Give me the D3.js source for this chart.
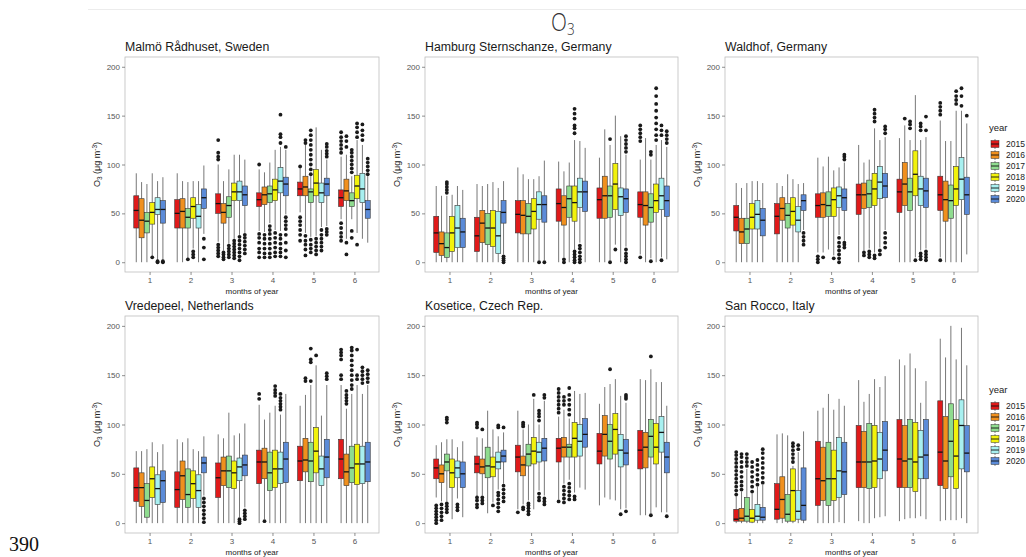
<!DOCTYPE html>
<html>
<head>
<meta charset="utf-8">
<script src="https://cdn.jsdelivr.net/npm/d3@7"></script>
<style>
  body { margin: 0; background: #fff; }
  svg { display: block; font-family: "Liberation Sans", Arial, sans-serif; }
</style>
</head>
<body>
<svg id="chart"></svg>
<script>
const WIDTH = 1026;
const HEIGHT = 557;

const months = [1, 2, 3, 4, 5, 6];
const years = ["2015", "2016", "2017", "2018", "2019", "2020"];
const yearColors = ["#e01a1a", "#f0901e", "#8fdc8f", "#f2f20c", "#a8f0f0", "#5b8bd8"];
const yTicks = [0, 50, 100, 150, 200];
const stations = [
  "Malmö Rådhuset, Sweden",
  "Hamburg Sternschanze, Germany",
  "Waldhof, Germany",
  "Vredepeel, Netherlands",
  "Kosetice, Czech Rep.",
  "San Rocco, Italy",
];

// one row per month and year: [low whisker, q1, median, q3, high whisker]
const malmo = [
  [0,35,53,68,91],[0,25,43,65,82],[0,30,42,51,80],[6,39,51,61,91],[2,49,54,66,83],[2,40,54,63,87],
  [0,35,50,64,91],[0,35,52,65,83],[4,35,46,55,82],[14,45,57,66,83],[0,35,47,59,83],[29,55,66,75,99],
  [21,50,60,70,100],[12,40,51,60,83],[19,46,58,67,95],[24,63,72,81,110],[28,63,72,83,110],[30,58,69,78,105],
  [32,57,64,71,95],[31,59,69,77,92],[40,61,70,78,102],[33,63,74,85,115],[32,71,83,97,118],[49,68,80,87,115],
  [51,68,75,82,97],[30,68,77,88,120],[26,61,72,75,88],[27,68,81,95,138],[36,61,71,81,115],[37,68,80,86,105],
  [44,57,66,74,108],[24,63,73,85,110],[44,57,63,71,88],[30,65,78,89,125],[24,61,75,91,120],[20,45,54,63,88],
];
const malmoOut = [
  [],[],[],[5],[0,1],[0,1],
  [],[],[3],[5,8,11],[],[3,15,24],
  [6,9,12,15,18,105,108,112,125],[3,5,8,10],[5,8,11,14,17],[4,7,10,13,16,19,22],[2,6,10,14,18,22,26],[9,13,17,21,25,28],
  [5,10,14,20,25,29,100],[5,9,14,19,24,28],[5,9,14,19,24,29,33,37],[6,10,15,20,25,30],[6,10,14,19,24,28,122,128,131,151],[5,12,20,28,34,38,42,46,118],
  [22,28,33,38,42,46,98],[7,13,18,22,27,122,125],[10,14,18,23,90,95,100,105,110,115,120,125,130,135],[8,12,16,20,24],[12,16,20,24,28,33],[28,31,34,108,111,114,118,121],
  [22,26,30,35,40,112,116,120,124,128,133],[8,20,118,124,129],[25,32,92,96,100,104,108,112,115],[18,128,133,138,142],[125,130,135,141],[90,94,98,102,106],
];

const hamburg = [
  [0,10,30,47,78],[0,7,19,31,68],[0,5,15,30,68],[0,11,30,47,69],[0,15,35,58,78],[0,15,31,45,74],
  [0,11,27,46,80],[0,20,40,53,78],[0,18,35,50,80],[0,16,35,53,82],[0,9,27,52,76],[8,40,51,63,83],
  [0,30,49,63,97],[0,29,48,63,90],[0,29,47,60,85],[0,34,52,65,85],[2,44,59,72,88],[2,41,59,68,104],
  [0,42,60,75,103],[5,38,56,68,93],[0,46,65,78,102],[13,42,61,78,125],[20,56,72,86,124],[0,52,72,83,117],
  [0,45,64,76,107],[0,45,68,88,136],[2,46,68,78,120],[18,54,80,101,150],[0,48,67,76,129],[16,51,65,75,110],
  [8,46,59,72,105],[0,38,58,72,127],[4,41,56,70,105],[0,51,63,80,120],[5,54,68,86,125],[3,47,63,78,118],
];
const hamburgOut = [
  [],[],[71,74,77,80,82],[],[],[],
  [],[],[],[],[],[0,2,4,6],
  [],[],[],[],[0],[0],
  [],[0,3],[],[0,2,5,8,11,132,137,140,147,152,157],[0,3,6,10,14,17],[],
  [],[],[0,126],[13],[],[0,3,6,9,13,113,117,121,125,129],
  [5,124,128,132,136,140],[],[1,110,113],[125,130,136,142,148,155,162,170,178],[2,130,135,140],[122,126,130,134],
];

const waldhof = [
  [0,32,46,58,81],[0,19,31,45,76],[0,19,34,45,81],[0,34,46,60,83],[0,34,49,63,83],[0,27,43,55,81],
  [0,29,47,60,81],[0,43,55,66,78],[0,35,48,60,90],[0,38,52,66,85],[0,31,43,57,80],[33,53,63,69,81],
  [10,46,58,70,107],[10,46,59,71,98],[13,47,58,72,108],[7,47,64,76,94],[28,56,68,77,97],[22,53,66,75,102],
  [0,49,69,80,120],[12,55,69,81,102],[14,56,70,84,105],[10,58,75,91,137],[15,65,82,98,125],[33,66,78,91,128],
  [0,51,72,85,127],[0,58,80,102,140],[0,53,72,86,125],[5,68,90,114,171],[12,58,75,88,125],[14,56,73,86,128],
  [5,53,69,88,145],[0,42,64,83,124],[0,45,63,79,124],[0,58,75,98,155],[0,64,85,107,155],[8,49,69,87,142],
];
const waldhofOut = [
  [],[],[],[],[],[],
  [],[],[],[],[],[18,22,26,30],
  [0,3,6],[5],[],[4],[0,4,8,12,16,20,25],[15,18,20,105,108,110],
  [],[7,10],[5,8,11],[4,7,144,148,152,156],[8,12],[15,20,25,30,132,136,139],
  [],[147],[137,141,144],[2],[3,6,9,135,139,142],[2,5,8,11,135,149],
  [2,151,155,159,163],[],[],[162,166,170,175],[160,170,178],[150],
];

const vredepeel = [
  [0,22,36,56,73],[0,17,36,51,73],[0,6,23,40,75],[0,26,45,57,82],[0,19,35,49,72],[0,21,43,53,80],
  [0,16,34,52,85],[0,24,48,63,82],[0,16,29,55,86],[0,25,40,53,75],[0,16,33,49,73],[28,51,61,67,88],
  [0,26,46,61,90],[0,38,53,67,86],[0,36,53,68,112],[0,35,51,63,89],[6,43,57,66,91],[16,48,59,69,101],
  [0,40,62,74,120],[4,45,62,76,105],[0,33,51,72,112],[0,36,55,74,119],[0,40,55,72,110],[0,41,65,82,131],
  [0,43,63,78,119],[0,52,64,86,130],[0,42,63,82,140],[0,51,73,97,160],[0,38,55,68,109],[0,46,67,85,140],
  [0,45,65,85,140],[0,38,52,70,116],[0,41,56,78,131],[0,39,60,80,140],[0,40,60,78,131],[0,42,62,82,140],
];
const vredepeelOut = [
  [],[],[],[],[],[],
  [],[],[],[],[],[1,5,9,13,17,21,25],
  [],[],[],[],[0,2,4],[4,7,10,13],
  [126,131],[2],[],[129,132,135,139],[115,118,121,124,127,131],[],
  [],[144,147],[144,163,166,177],[170],[],[146,149,152],
  [146,150,166,170,173,176],[121,124,127,130,134],[136,140,145,150,155,160,165,170,175,178],[146,150,176],[142,146,150,154,158],[143,147,151,155],
];

const kosetice = [
  [26,45,56,65,79],[22,41,50,59,82],[22,53,62,70,85],[4,36,51,65,85],[25,46,56,63,77],[6,36,50,62,83],
  [26,51,60,68,87],[28,50,57,65,86],[10,46,58,77,114],[21,47,57,67,95],[34,55,62,72,88],[40,62,68,74,92],
  [14,52,67,79,114],[19,48,59,68,95],[23,58,70,80,100],[14,60,73,87,126],[33,62,72,82,100],[28,63,76,86,124],
  [24,62,76,86,108],[40,67,77,87,115],[44,67,77,80,106],[31,67,86,102,134],[36,68,83,100,131],[34,77,90,106,132],
  [18,60,73,91,121],[26,68,90,109,138],[24,65,83,100,141],[23,70,95,111,146],[14,57,74,90,129],[15,59,71,85,122],
  [8,55,74,94,146],[8,56,77,92,145],[10,67,88,105,156],[16,60,77,101,143],[11,72,92,108,143],[11,51,67,82,119],
];
const koseticeOut = [
  [0,3,6,9,12,15,18],[3,7,11,15,19],[11,14,17,20,102,105,107],[],[13,16,19],[],
  [16,19,23,26,97,100,102],[20,23,26,95],[],[18],[12,16,20,24,28,31,97,99],[22,26,30,34,38,97],
  [11],[14,16,98,100,102],[9,12,15,18,20],[130],[23,26,30,104,108,111,114],[19,22,25,127,130],
  [22,112,116,120,124,128,132,136],[21,25,29,33,37,120,124,128],[24,28,32,36,40,110,115,120,125,130,137],[24,27],[],[],
  [],[],[156],[],[9],[12,126,128,130],
  [],[],[8,169],[],[],[7],
];

const sanRocco = [
  [0,2,4,14,27],[0,2,5,15,32],[0,2,7,26,55],[0,1,5,14,30],[0,3,7,19,37],[0,3,6,16,39],
  [0,4,14,40,90],[0,5,24,47,91],[0,2,9,29,89],[0,2,33,55,58],[0,4,12,33,72],[0,3,18,56,93],
  [0,18,45,83,114],[0,23,43,77,117],[0,18,45,82,131],[0,23,45,74,115],[1,26,53,87,126],[0,29,52,82,119],
  [2,36,62,99,145],[0,36,62,93,123],[0,35,62,101,131],[5,36,63,99,146],[6,45,65,92,138],[7,53,74,103,149],
  [2,36,65,105,166],[4,36,63,99,160],[5,36,65,105,172],[5,32,62,102,157],[7,45,67,94,122],[4,45,69,105,144],
  [2,38,72,124,187],[3,35,63,108,168],[3,47,83,121,200],[3,35,68,105,166],[5,55,99,125,198],[0,52,71,99,160],
];
const sanRoccoOut = [
  [29,33,37,41,45,49,53,57,61,65,69,72],[34,38,42,47,52,57,62,67,70],[58,62,66,70],[32,37,42,47,52,57,62],[39,44,49,54,59,64],[41,46,51,56,61,66,71,75],
  [],[],[],[62,66,70,74,78,81],[75,79],[],
  [],[],[],[],[],[],
  [],[],[],[],[],[],
  [],[],[],[],[],[],
  [],[],[],[],[],[],
];

const panels = [
  { title: stations[0], stats: malmo, out: malmoOut },
  { title: stations[1], stats: hamburg, out: hamburgOut },
  { title: stations[2], stats: waldhof, out: waldhofOut },
  { title: stations[3], stats: vredepeel, out: vredepeelOut },
  { title: stations[4], stats: kosetice, out: koseticeOut },
  { title: stations[5], stats: sanRocco, out: sanRoccoOut },
];

const COLS_X = [[125, 379], [425, 678], [725, 978]];
const ROWS_Y = [[57, 272], [316, 533]];

const svg = d3.select("#chart").attr("width", WIDTH).attr("height", HEIGHT);

// faint rule and page number
svg.append("line")
  .attr("x1", 88).attr("x2", WIDTH).attr("y1", 9.5).attr("y2", 9.5)
  .attr("stroke", "#ececec");
svg.append("text")
  .attr("x", 9).attr("y", 551)
  .style("font-family", "'Liberation Serif', 'Times New Roman', serif")
  .style("font-size", "20px").attr("fill", "#111")
  .text("390");

// main title
const mainTitle = svg.append("text")
  .attr("transform", "translate(551,31) scale(0.8,1)")
  .style("font-family", "'Open Sans', 'DejaVu Sans', sans-serif")
  .style("font-weight", 300)
  .style("font-size", "26px").attr("fill", "#333");
mainTitle.append("tspan").text("O");
mainTitle.append("tspan").attr("dy", 4).style("font-size", "17px").text("3");

panels.forEach((p, i) => {
  const [x0, x1] = COLS_X[i % 3];
  const [y0, y1] = ROWS_Y[Math.floor(i / 3)];

  const x = d3.scalePoint().domain(months).range([x0, x1]).padding(0.6);
  const dodge = d3.scaleBand().domain(years)
    .range([-0.39 * x.step(), 0.39 * x.step()]);
  const y = d3.scaleLinear().domain([-10, 210]).range([y1, y0]);

  const g = svg.append("g");

  g.append("rect")
    .attr("x", x0).attr("y", y0)
    .attr("width", x1 - x0).attr("height", y1 - y0)
    .attr("fill", "#fff").attr("stroke", "#bdbdbd").attr("stroke-width", 0.8);

  const bw = dodge.bandwidth() * 0.94;

  months.forEach((m, mi) => {
    years.forEach((yr, k) => {
      const s = p.stats[mi * 6 + k];
      const cx = x(m) + dodge(yr) + dodge.bandwidth() / 2;
      const box = g.append("g");

      box.append("line")
        .attr("x1", cx).attr("x2", cx).attr("y1", y(s[0])).attr("y2", y(s[1]))
        .attr("stroke", "#555").attr("stroke-width", 0.8);
      box.append("line")
        .attr("x1", cx).attr("x2", cx).attr("y1", y(s[3])).attr("y2", y(s[4]))
        .attr("stroke", "#555").attr("stroke-width", 0.8);
      box.append("rect")
        .attr("x", cx - bw / 2).attr("y", y(s[3]))
        .attr("width", bw).attr("height", y(s[1]) - y(s[3]))
        .attr("fill", yearColors[k]).attr("stroke", "#333").attr("stroke-width", 0.6);
      box.append("line")
        .attr("x1", cx - bw / 2).attr("x2", cx + bw / 2)
        .attr("y1", y(s[2])).attr("y2", y(s[2]))
        .attr("stroke", "#111").attr("stroke-width", 1.3);
      box.selectAll("circle")
        .data(p.out[mi * 6 + k])
        .join("circle")
        .attr("cx", cx).attr("cy", (v) => y(v)).attr("r", 1.9)
        .attr("fill", "#1a1a1a");
    });
  });

  const axisY = g.append("g")
    .attr("transform", `translate(${x0},0)`)
    .call(d3.axisLeft(y).tickValues(yTicks).tickSize(3).tickPadding(2));
  const axisX = g.append("g")
    .attr("transform", `translate(0,${y1})`)
    .call(d3.axisBottom(x).tickSize(3).tickPadding(2));
  [axisY, axisX].forEach((a) => {
    a.select(".domain").remove();
    a.selectAll(".tick line").attr("stroke", "#444").attr("stroke-width", 0.6);
    a.selectAll(".tick text")
      .attr("fill", "#555")
      .style("font-family", "'Liberation Sans', Arial, sans-serif")
      .style("font-size", "8px");
  });

  g.append("text")
    .attr("x", x0).attr("y", y0 - 6)
    .style("font-size", "12.3px").attr("fill", "#1a1a1a")
    .text(p.title);

  g.append("text")
    .attr("x", (x0 + x1) / 2).attr("y", y1 + 22)
    .attr("text-anchor", "middle")
    .style("font-size", "8px").attr("fill", "#222")
    .text("months of year");

  const yt = g.append("text")
    .attr("transform", `translate(${x0 - 25},${(y0 + y1) / 2}) rotate(-90)`)
    .attr("text-anchor", "middle")
    .style("font-size", "9px").attr("fill", "#222");
  yt.append("tspan").text("O");
  yt.append("tspan").attr("dy", 2).style("font-size", "6.5px").text("3");
  yt.append("tspan").attr("dy", -2).text(" (μg m");
  yt.append("tspan").attr("dy", -3).style("font-size", "6.5px").text("-3");
  yt.append("tspan").attr("dy", 3).text(")");

  // legend next to the right-hand panel of each row
  if (i % 3 === 2) {
    const ly = i < 3 ? 131 : 393;
    const leg = svg.append("g").attr("transform", `translate(989,${ly})`);
    leg.append("text").attr("x", 0).attr("y", 0)
      .style("font-size", "9.5px").attr("fill", "#222").text("year");
    years.forEach((yr, k) => {
      const cy = 13 + k * 11;
      const key = leg.append("g").attr("transform", `translate(6,${cy})`);
      key.append("line").attr("x1", 0).attr("x2", 0).attr("y1", -5).attr("y2", 5)
        .attr("stroke", "#555").attr("stroke-width", 0.7);
      key.append("rect").attr("x", -4).attr("y", -3.5).attr("width", 8).attr("height", 7)
        .attr("fill", yearColors[k]).attr("stroke", "#333").attr("stroke-width", 0.5);
      key.append("line").attr("x1", -4).attr("x2", 4).attr("y1", 0).attr("y2", 0)
        .attr("stroke", "#111").attr("stroke-width", 0.9);
      leg.append("text").attr("x", 17).attr("y", cy + 3)
        .style("font-size", "8.5px").attr("fill", "#222").text(yr);
    });
  }
});
</script>
</body>
</html>
